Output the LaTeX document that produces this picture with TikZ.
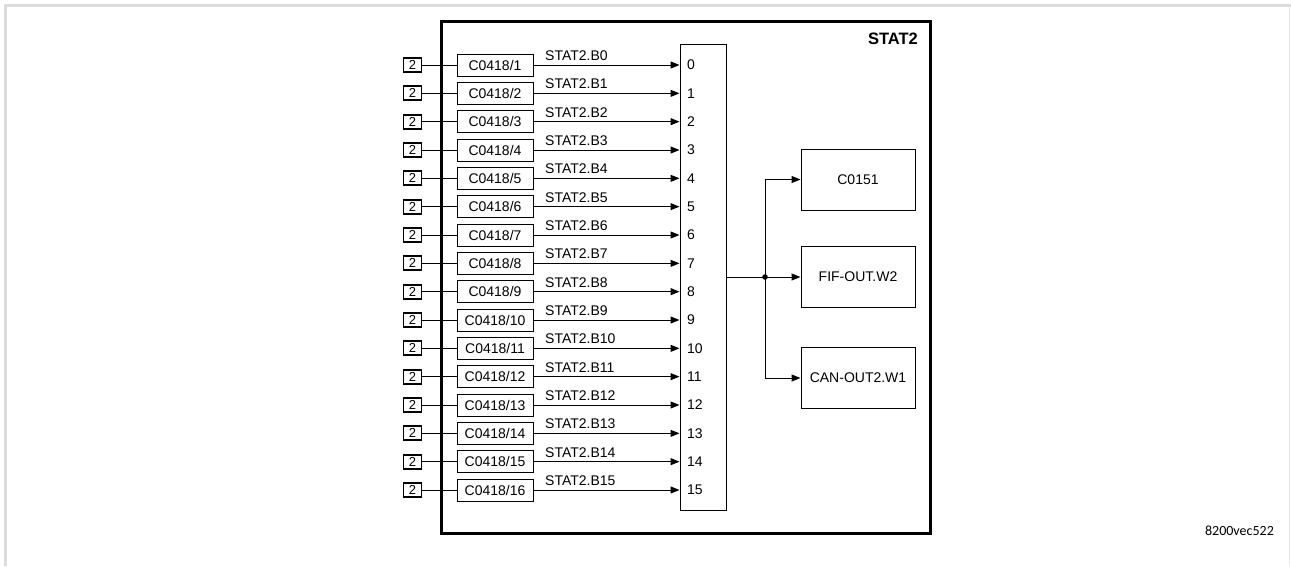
\documentclass[tikz,border=0pt]{standalone}
\usepackage{xcolor}
\usepackage{fontspec}
\setmainfont{Liberation Sans}
\newfontfamily\tagfont{Carlito}
\usepackage{tikz}
\usetikzlibrary{arrows.meta}
\usetikzlibrary{calc,positioning}

\definecolor{framegray}{RGB}{220,220,220}

\begin{document}
\begin{tikzpicture}[x=1pt, y=-1pt,
    font=\fontsize{14}{16}\selectfont,
    box/.style={draw, line width=1pt, inner sep=0pt},
    srcbox/.style={draw, line width=1.8pt, minimum width=18pt, minimum height=14pt, inner sep=0pt, font=\fontsize{13}{14}\selectfont},
    parbox/.style={box, minimum width=76pt, minimum height=22pt},
    outbox/.style={box, minimum width=114pt, minimum height=61pt},
    sig/.style={-{Triangle[length=9pt,width=7pt]}, line width=1pt}]

    \useasboundingbox (0,0) rectangle (1291,566);

    % Page frame
    \draw[framegray, line width=2.5pt] (5.3,566) -- (5.3,5.5) -- (1291,5.5);
    \draw[framegray!70, line width=1pt] (1289.5,6.5) -- (1289.5,566);

    % Block
    \draw[line width=3pt] (441,21) rectangle (930,533);
    \node[anchor=base east, inner sep=0pt, font=\fontsize{16.5}{18}\bfseries] (title) at (918,44) {STAT2};

    % Bus
    \node[box, minimum width=46pt, minimum height=466pt] (bus) at (703,277) {};

    % Bits
    \foreach \i in {0,...,15} {
        \pgfmathsetmacro\yy{65+28.333*\i}
        \pgfmathtruncatemacro\n{\i+1}
        \node[srcbox] (src\i) at (412.5,\yy) {2};
        \node[parbox] (par\i) at (495,\yy) {C0418/\n};
        \node[anchor=base west, inner sep=0pt] (bit\i) at (545,{\yy-4.5}) {STAT2.B\i};
        \node[anchor=west, inner sep=0pt] (in\i) at (687,\yy) {\i};
        \draw[line width=1pt] (src\i) -- (par\i);
        \draw[sig] (par\i) -- (par\i -| bus.west);
    }

    % Outputs
    \node[outbox] (c151) at (858,179.5) {C0151};
    \node[outbox] (fif) at (858,277) {FIF-OUT.W2};
    \node[outbox] (can) at (858,378) {CAN-OUT2.W1};

    \coordinate (split) at (765,277);
    \draw[sig] (bus.east) -- (fif.west);
    \draw[sig] (split) |- (c151.west);
    \draw[sig] (split) |- (can.west);
    \fill (split) circle (2.8pt);

    \node[anchor=east, inner sep=0pt, font=\tagfont\fontsize{14}{16}\selectfont] (tag) at (1274,531) {8200vec522};

\end{tikzpicture}
\end{document}
